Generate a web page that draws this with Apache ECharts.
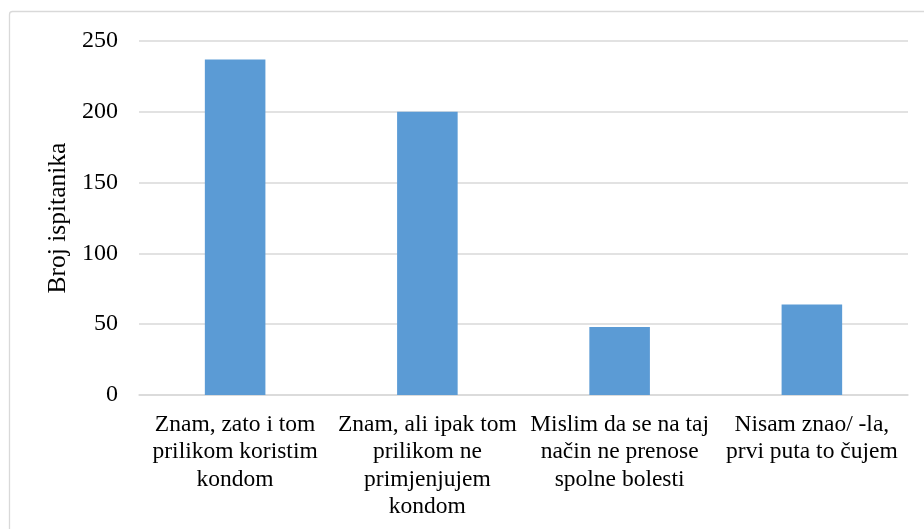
<!DOCTYPE html>
<html><head><meta charset="utf-8">
<script src="https://cdn.jsdelivr.net/npm/echarts@6/dist/echarts.min.js"></script>
<style>html,body{margin:0;padding:0;background:#fff}#c{width:924px;height:529px}</style>
</head><body><div id="c"></div>
<script>
const categories = [
  "Znam, zato i tom\nprilikom koristim\nkondom",
  "Znam, ali ipak tom\nprilikom ne\nprimjenjujem\nkondom",
  "Mislim da se na taj\nnačin ne prenose\nspolne bolesti",
  "Nisam znao/ -la,\nprvi puta to čujem"
];
const values = [237, 200, 48, 64];
const yTicks = [0, 50, 100, 150, 200, 250];
const yTitle = "Broj ispitanika";

const font = "'Liberation Serif', 'Times New Roman', serif";
const chart = echarts.init(document.getElementById('c'), null, {renderer: 'canvas'});
chart.setOption({
  animation: false,
  backgroundColor: '#fff',
  graphic: [{
    type: 'rect', shape: {x: 9.5, y: 11.5, width: 930, height: 540, r: 3},
    style: {fill: 'none', stroke: '#d9d9d9', lineWidth: 1.3}, silent: true
  }],
  grid: {left: 139, right: 16, top: 41, bottom: 134, containLabel: false},
  xAxis: {
    type: 'category', data: categories,
    axisLine: {show: true, lineStyle: {color: '#d9d9d9', width: 1.5}},
    axisTick: {show: false},
    axisLabel: {interval: 0, color: '#000', fontFamily: font, fontSize: 23.5, lineHeight: 27.5, margin: 16, align: 'center'}
  },
  yAxis: {
    type: 'value', min: yTicks[0], max: yTicks[yTicks.length - 1], interval: 50,
    name: yTitle, nameLocation: 'middle', nameGap: 67, nameRotate: 90,
    nameTextStyle: {color: '#000', fontFamily: font, fontSize: 25.5},
    axisLine: {show: false}, axisTick: {show: false},
    axisLabel: {color: '#000', fontFamily: font, fontSize: 24, margin: 21},
    splitLine: {lineStyle: {color: '#d9d9d9', width: 1.5}}
  },
  series: [{
    type: 'bar', data: values, barWidth: '31.5%',
    itemStyle: {color: '#5b9bd5'}
  }]
});
</script></body></html>
